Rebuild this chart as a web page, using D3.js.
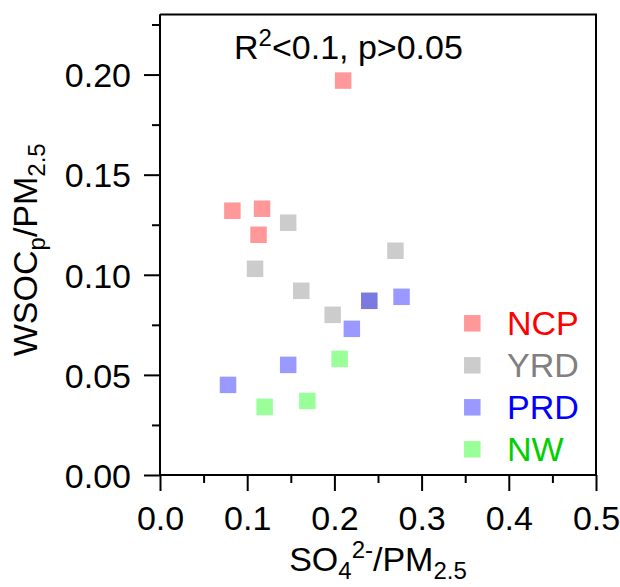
<!DOCTYPE html>
<html>
<head>
<meta charset="utf-8">
<script src="https://cdn.jsdelivr.net/npm/d3@7"></script>
<style>
  html, body { margin: 0; padding: 0; background: #fff; }
  svg { display: block; font-family: "Liberation Sans", Arial, sans-serif; }
</style>
</head>
<body>
<svg id="chart" width="620" height="587"></svg>
<script>
// ---- Data ----
const regions = ["NCP", "YRD", "PRD", "NW"];
const textColors = ["#ff0000", "#808080", "#0000ff", "#00d000"];
const markerColors = ["#ff0000", "#808080", "#0000ff", "#00ff00"];

const ncpX = [0.210, 0.083, 0.117, 0.113];
const ncpY = [0.197, 0.132, 0.133, 0.120];
const yrdX = [0.147, 0.109, 0.270, 0.162, 0.198, 0.240];
const yrdY = [0.126, 0.103, 0.112, 0.092, 0.080, 0.087];
const prdX = [0.277, 0.220, 0.147, 0.078, 0.240];
const prdY = [0.089, 0.073, 0.055, 0.045, 0.087];
const nwX  = [0.206, 0.120, 0.169];
const nwY  = [0.058, 0.034, 0.037];

const xTicks = [0.0, 0.1, 0.2, 0.3, 0.4, 0.5];
const xMinor = [0.05, 0.15, 0.25, 0.35, 0.45];
const yTicks = [0.00, 0.05, 0.10, 0.15, 0.20];
const yMinor = [0.025, 0.075, 0.125, 0.175, 0.225];

const seriesX = [ncpX, yrdX, prdX, nwX];
const seriesY = [ncpY, yrdY, prdY, nwY];

// ---- Layout ----
const svg = d3.select("#chart");
const L = 160, R = 596, T = 14.5, B = 475;
const x = d3.scaleLinear().domain([0, 0.5]).range([L, R]);
const y = d3.scaleLinear().domain([0, 0.23]).range([B, T]);
const FS = 34;
const SS = 24;
const MS = 16.5;
const FF = "Liberation Sans, Arial, sans-serif";

// frame (top & right)
svg.append("path")
  .attr("d", `M${L},${T}H${R}V${B}`)
  .attr("fill", "none").attr("stroke", "#000").attr("stroke-width", 2);

// x axis
const gx = svg.append("g").attr("transform", `translate(0,${B})`);
gx.call(d3.axisBottom(x).tickValues(xTicks).tickSize(16).tickFormat(d3.format(".1f")));
const gxm = svg.append("g").attr("transform", `translate(0,${B})`);
gxm.call(d3.axisBottom(x).tickValues(xMinor).tickSize(8).tickFormat(""));
[gx, gxm].forEach(g => {
  g.select(".domain").attr("stroke-width", 2).attr("d", `M${L},0H${R}`);
  g.selectAll(".tick line").attr("stroke-width", 2);
});
gx.selectAll(".tick text")
  .attr("y", 55).attr("dy", 0)
  .attr("font-size", FS).attr("font-family", FF).attr("fill", "#000");

// y axis
const gy = svg.append("g").attr("transform", `translate(${L},0)`);
gy.call(d3.axisLeft(y).tickValues(yTicks).tickSize(16).tickFormat(d3.format(".2f")));
const gym = svg.append("g").attr("transform", `translate(${L},0)`);
gym.call(d3.axisLeft(y).tickValues(yMinor).tickSize(8).tickFormat(""));
[gy, gym].forEach(g => {
  g.select(".domain").attr("stroke-width", 2).attr("d", `M0,${B}V${T}`);
  g.selectAll(".tick line").attr("stroke-width", 2);
});
gy.selectAll(".tick text")
  .attr("x", -29).attr("dy", "0.36em")
  .attr("font-size", FS).attr("font-family", FF).attr("fill", "#000");

// points
regions.forEach((r, i) => {
  const pts = seriesX[i].map((v, j) => [v, seriesY[i][j]]);
  svg.append("g").selectAll("rect").data(pts).join("rect")
    .attr("x", d => x(d[0]) - MS / 2)
    .attr("y", d => y(d[1]) - MS / 2)
    .attr("width", MS).attr("height", MS)
    .attr("fill", markerColors[i]).attr("fill-opacity", 0.4);
});

// legend
const lg = svg.append("g");
regions.forEach((r, i) => {
  const cy = 323.3 + i * 42;
  lg.append("rect")
    .attr("x", 472.3 - MS / 2).attr("y", cy - MS / 2)
    .attr("width", MS).attr("height", MS)
    .attr("fill", markerColors[i]).attr("fill-opacity", 0.4);
  lg.append("text")
    .attr("x", 507).attr("y", cy + 12)
    .attr("font-size", FS).attr("fill", textColors[i])
    .text(r);
});

// annotation
const ann = svg.append("text").attr("x", 234).attr("y", 59).attr("font-size", FS).attr("fill", "#000");
ann.append("tspan").text("R");
ann.append("tspan").attr("font-size", SS).attr("dy", -13).text("2");
ann.append("tspan").attr("dy", 13).text("<0.1, p>0.05");

// x label
const xl = svg.append("text")
  .attr("x", (L + R) / 2).attr("y", 571)
  .attr("text-anchor", "middle").attr("font-size", FS).attr("fill", "#000");
xl.append("tspan").text("SO");
xl.append("tspan").attr("font-size", SS).attr("dy", 8).text("4");
xl.append("tspan").attr("font-size", SS).attr("dy", -21).text("2-");
xl.append("tspan").attr("dy", 13).text("/PM");
xl.append("tspan").attr("font-size", SS).attr("dy", 8).text("2.5");

// y label
const yl = svg.append("text")
  .attr("transform", `translate(37,${(T + B) / 2 + 5}) rotate(-90)`)
  .attr("text-anchor", "middle").attr("font-size", FS).attr("fill", "#000");
yl.append("tspan").text("WSOC");
yl.append("tspan").attr("font-size", SS).attr("dy", 8).text("p");
yl.append("tspan").attr("dy", -8).text("/PM");
yl.append("tspan").attr("font-size", SS).attr("dy", 8).text("2.5");
</script>
</body>
</html>
